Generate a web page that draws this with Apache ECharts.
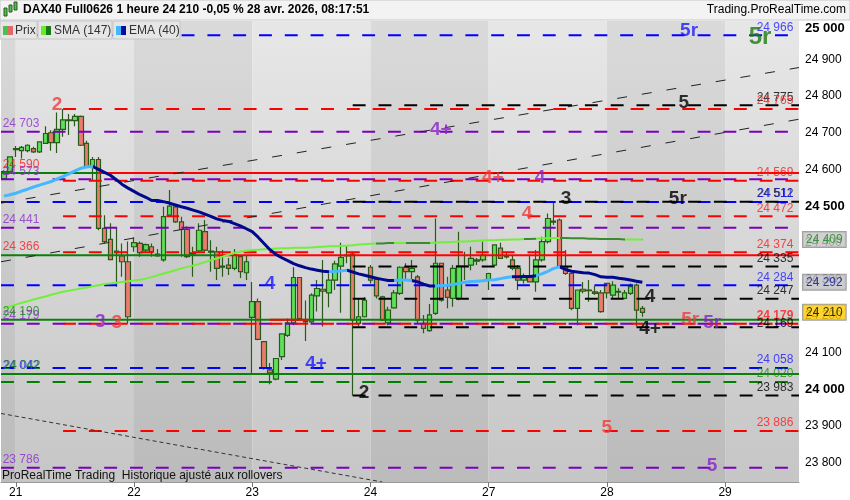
<!DOCTYPE html>
<html><head><meta charset="utf-8">
<script src="https://cdn.jsdelivr.net/npm/echarts@6/dist/echarts.min.js"></script>
<style>html,body{margin:0;padding:0;background:#fff}#c{width:850px;height:500px}</style>
</head><body><div id="c"></div><script>
// ---------- data ----------
const dayNames = ['20','21','22','23','24','27','28','29'];
const dayStarts = [2,22,42,62,82,102,122];          // first slot of each labelled day
const slotCount = 135;
const opens  = [24575,24594,24654,24651,24651,24657,24648,24671,24700,24673,24709,24735,24733,24745,24671,24607,24627,24439,24409,24377,24364,24348,24389,24398,24380,24389,24369,24353,24475,24498,24457,24436,24369,24378,24430,24377,24375,24336,24339,24330,24362,24318,24196,24239,24130,24053,24028,24089,24147,24181,24305,24186,24184,24255,24273,24263,24298,24336,24364,24369,24180,24198,24333,24300,24252,24181,24222,24262,24333,24321,24307,24180,24160,24207,24344,24271,24248,24248,24336,24339,24353,24353,24298,24339,24385,24363,24353,24330,24298,24307,24293,24353,24403,24459,24462,24334,24316,24221,24273,24271,24266,24263,24289,24257,24265,24248,24262,24284,24221];
const highs  = [24598,24636,24664,24664,24669,24662,24677,24718,24707,24755,24765,24751,24751,24747,24678,24634,24634,24475,24453,24443,24398,24403,24415,24403,24398,24398,24383,24498,24544,24503,24471,24445,24389,24453,24462,24407,24389,24380,24358,24383,24366,24366,24293,24248,24130,24072,24084,24151,24193,24333,24305,24242,24262,24298,24353,24316,24351,24400,24394,24375,24248,24252,24339,24307,24255,24225,24271,24336,24344,24353,24312,24203,24233,24466,24344,24307,24339,24430,24375,24389,24358,24403,24318,24394,24400,24375,24366,24339,24316,24366,24380,24416,24480,24512,24466,24380,24318,24271,24293,24298,24282,24271,24289,24295,24276,24271,24289,24289,24227];
const lows   = [24571,24590,24634,24630,24647,24645,24645,24670,24651,24645,24689,24694,24718,24664,24603,24571,24434,24398,24353,24280,24307,24179,24375,24362,24375,24362,24362,24348,24471,24454,24362,24358,24307,24371,24375,24321,24298,24307,24312,24325,24304,24298,24039,24134,24054,24014,24025,24080,24143,24175,24189,24132,24180,24212,24171,24224,24271,24209,24344,23983,24172,24196,24289,24248,24189,24175,24220,24257,24298,24300,24180,24153,24157,24203,24239,24221,24225,24243,24298,24325,24339,24348,24271,24336,24357,24357,24325,24271,24289,24293,24266,24348,24398,24448,24330,24312,24216,24175,24262,24239,24257,24209,24248,24248,24246,24246,24257,24172,24198];
const closes = [24594,24634,24657,24660,24666,24648,24675,24698,24673,24709,24735,24733,24745,24666,24607,24627,24439,24403,24354,24373,24348,24198,24400,24373,24395,24375,24364,24471,24500,24457,24436,24362,24372,24434,24380,24374,24330,24333,24330,24366,24321,24348,24239,24136,24057,24045,24084,24151,24181,24305,24193,24184,24257,24275,24268,24298,24342,24360,24366,24189,24198,24243,24298,24255,24189,24216,24263,24333,24321,24330,24189,24166,24203,24344,24243,24251,24330,24336,24335,24357,24350,24366,24316,24394,24357,24361,24330,24298,24307,24293,24353,24403,24466,24456,24334,24316,24221,24271,24268,24269,24262,24212,24263,24284,24267,24263,24280,24216,24210];
const sma147 = [24221,24226,24231,24236,24240,24245,24249,24253,24258,24262,24266,24269,24272,24275,24278,24281,24284,24287,24289,24291,24293,24295,24297,24299,24302,24306,24311,24316,24320,24325,24330,24334,24338,24342,24347,24352,24357,24362,24367,24372,24376,24378,24380,24381,24382,24383,24384,24385,24385,24386,24386,24386,24387,24388,24389,24390,24390,24391,24392,24393,24395,24396,24397,24398,24398,24399,24399,24399,24399,24399,24399,24399,24399,24400,24401,24401,24402,24403,24403,24404,24405,24406,24407,24407,24408,24408,24409,24409,24410,24410,24411,24412,24412,24413,24413,24413,24412,24412,24412,24411,24411,24410,24410,24410,24410,24409,24409,24409,24409];
const ema40 = [24527,24531,24535,24541,24546,24552,24557,24562,24567,24574,24581,24588,24596,24603,24607,24608,24600,24592,24584,24572,24559,24549,24540,24531,24524,24515,24515,24512,24508,24503,24498,24494,24489,24484,24478,24472,24465,24461,24458,24452,24446,24438,24430,24415,24398,24381,24368,24359,24351,24343,24337,24332,24328,24325,24322,24321,24322,24323,24325,24320,24315,24311,24307,24303,24300,24297,24297,24298,24298,24297,24293,24287,24282,24282,24283,24284,24286,24289,24292,24294,24295,24296,24298,24299,24302,24305,24307,24307,24308,24308,24310,24315,24322,24330,24334,24327,24322,24320,24318,24317,24313,24307,24306,24306,24303,24301,24298,24295,24292];
const yTicks = [23800,23900,24000,24100,24200,24300,24400,24500,24600,24700,24800,24900,25000];
const boldTicks = [24000,24500,25000];
// horizontal levels
const redLevels    = [24765,24569,24472,24374,24179,23886];   // dashed, from the "2" pivot
const purpleLevels = [24703,24573,24441,24179,23786];         // dashed, full width
const blueLevels   = [24966,24511,24284,24058];               // dashed, full width
const blackLevels  = [24775,24512,24335,24247,24169,23983];   // dashed, from the low pivot
const greenDashLevels = [24020];
const greenSolidLevels = [24190,24042];
const switchLevels = [24590,24366];                           // solid, green then red
const switchAt = [16,36];
const redPivotSlot = 10, blackPivotSlot = 59;
// trend lines [x0,p0,x1,p1]
const trendUpper = [-0.5,24508,134.5,24878];
const trendLower = [-0.5,24348,134.5,24737];
const trendDown  = [-0.5,23934,64,23747];
// value labels
const rightLabels = [[24966,'b'],[24775,'k'],[24765,'r'],[24569,'r'],[24512,'k'],[24511,'b'],[24472,'r'],[24374,'r'],[24335,'k'],[24284,'b'],[24247,'k'],[24179,'r'],[24169,'k'],[24058,'b'],[24020,'g'],[23983,'k'],[23886,'r']];
const leftLabels = [[24703,'p'],[24573,'p'],[24590,'r'],[24441,'p'],[24366,'r'],[24179,'p'],[24190,'g'],[24042,'b'],[24042,'g'],[23786,'p']];
// wave annotations [text, colour, slot, price]
const waveLabels = [['2','r',9.0,24776],['3','p',16.3,24183],['3','r',19.1,24181],['4','b',45.0,24287],['4+','b',52.8,24069],['2','k',60.9,23990],['4+','p',73.9,24707],['4+','r',82.7,24576],['4','p',90.7,24576],['4','r',88.5,24478],['3','k',95.1,24519],['5r','k',114.0,24519],['5','k',115.0,24781],['4','k',109.3,24252],['4+','k',109.3,24166],['5r','r',116.1,24189],['5r','p',119.8,24181],['5','r',102.0,23894],['5','p',119.8,23791],['5r','b',115.9,24977],['5r','g',127.9,24961]];
const lastPrice = 24210, lastSMA = 24409, lastEMA = 24292;

// ---------- build ----------
const LINE = {r:'#ff0000',p:'#7a00c0',b:'#0000ff',k:'#000000',g:'#008000'};
const TXT  = {r:'#ff1a1a',p:'#8a2ccc',b:'#1a1aff',k:'#000000',g:'#1a8a1a'};
const BIG  = {r:'#f03c3c',p:'#8a22c8',b:'#1a1aff',k:'#000000',g:'#1f7a10'};
const FONT = 'Arial, "Liberation Sans", sans-serif';
const DASH = [12.9,12.9];
const XMIN = -0.5, XMAX = slotCount - 0.5;

const categories = [];
for (let i = 0; i < slotCount; i++) {
  const d = i < 2 ? 0 : 1 + Math.floor((i - 2) / 20);
  const h = i < 2 ? 20 + i : 2 + ((i - 2) % 20);
  categories.push(dayNames[d] + ' ' + (h < 10 ? '0' : '') + h + ':00');
}
const isDayStart = i => dayStarts.indexOf(i) >= 0;
const candleData = closes.map((c, i) => [opens[i], c, lows[i], highs[i]]);
const fmt = v => String(v).replace(/\B(?=(\d{3})+(?!\d))/g, ' ');

const series = [];
// day bands
const bounds = [XMIN].concat(dayStarts, [XMAX]);
const bandData = [];
for (let k = 0; k < bounds.length - 1; k++) {
  const dark = k % 2 === 0;
  bandData.push([{xAxis: bounds[k], itemStyle: {color: {type:'linear',x:0,y:0,x2:0,y2:1,
      colorStops: dark ? [{offset:0,color:'#dadada'},{offset:1,color:'#bbbbbb'}]
                       : [{offset:0,color:'#e7e7e7'},{offset:1,color:'#c6c6c6'}]}}},
                 {xAxis: bounds[k+1]}]);
}
series.push({type:'line', xAxisIndex:1, data:[[0,24000]], symbol:'none', lineStyle:{opacity:0}, silent:true, z:0,
  markArea:{silent:true, data:bandData}});
// candles
series.push({type:'candlestick', xAxisIndex:0, data:candleData, barWidth:5, z:2,
  itemStyle:{color:'#5ee05a', color0:'#ec7a70', borderColor:'#2a5a1a', borderColor0:'#2a5a1a', borderWidth:1.2}});
function hline(p, from, to, color, dashed, w) {
  series.push({type:'line', xAxisIndex:1, data:[[from,p],[to,p]], symbol:'none', silent:true, z:3,
    lineStyle:{color:color, width:w || 2, type: dashed ? DASH : 'solid'}});
}
purpleLevels.forEach(p => hline(p, XMIN, XMAX, LINE.p, true));
blueLevels.forEach(p => hline(p, XMIN, XMAX, LINE.b, true));
greenDashLevels.forEach(p => hline(p, XMIN, XMAX, LINE.g, true));
redLevels.forEach(p => hline(p, redPivotSlot, XMAX, LINE.r, true));
blackLevels.forEach(p => hline(p, blackPivotSlot, XMAX, LINE.k, true));
greenSolidLevels.forEach(p => hline(p, XMIN, XMAX, '#0a800a', false));
switchLevels.forEach((p, k) => { hline(p, XMIN, switchAt[k], '#0a800a', false); hline(p, switchAt[k], XMAX, '#ff0000', false); });
hline(24190, 45, 51.5, '#ff0000', false);
// trend lines
[trendUpper, trendLower].forEach(t => series.push({type:'line', xAxisIndex:1, data:[[t[0],t[1]],[t[2],t[3]]], symbol:'none', silent:true, z:3,
  lineStyle:{color:'#222', width:1, type:[10,15]}}));
series.push({type:'line', xAxisIndex:1, data:[[trendDown[0],trendDown[1]],[trendDown[2],trendDown[3]]], symbol:'none', silent:true, z:3,
  lineStyle:{color:'#333', width:1, type:[4,3]}});
// moving averages
const smaIdx = series.length;
series.push({type:'line', xAxisIndex:0, data:sma147, symbol:'none', smooth:false, z:4, lineStyle:{width:2}});
const emaIdx = series.length;
series.push({type:'line', xAxisIndex:0, data:ema40, symbol:'none', smooth:false, z:4, lineStyle:{width:3}});
// text labels
function textSeries(items, z) {
  series.push({type:'scatter', xAxisIndex:1, symbolSize:0, silent:true, clip:false, z:z || 6, data:items});
}
textSeries(rightLabels.map(([p, c]) => ({value:[133.55, p], label:{show:true, position:'left', distance:0,
  offset:[0, p === 24169 ? -4 : -8], formatter: fmt(p), color:TXT[c], fontSize:12, fontFamily:FONT,
  fontWeight: p === 24179 ? 'bold' : 'normal'}})));
textSeries(leftLabels.map(([p, c], k) => ({value:[-0.22, p], label:{show:true, position:'right', distance:0,
  offset:[k === 8 ? 1 : 0, -8], formatter: fmt(p), color:TXT[c], fontSize:12, fontFamily:FONT}})));
textSeries(waveLabels.map(([t, c, x, p]) => ({value:[x, p], label:{show:true, position:'inside', formatter:t,
  color:BIG[c], fontSize: c === 'g' ? 24 : 19, fontWeight:'bold', fontFamily:FONT}})), 7);
// right-axis price boxes
const boxes = [[lastSMA,'#1a8a1a','#c4c4c4'],[lastEMA,'#10108a','#bfbfc8'],[lastPrice,'#000','#ffcc00']];
textSeries(boxes.map(([p, fc, bg]) => ({value:[XMAX, p], label:{show:true, position:'right', distance:4,
  formatter: fmt(p), color:fc, backgroundColor:bg, borderColor:'#8a8a8a', borderWidth:1, padding:[2,3,1,3],
  fontSize:12, fontFamily:FONT}})), 20);

const option = {
  animation:false,
  backgroundColor:'#ffffff',
  grid:{left:1, right:51, top:21, bottom:18, containLabel:false, outerBoundsMode:'none'},
  xAxis:[
    {type:'category', data:categories, boundaryGap:true, position:'bottom',
     axisLine:{show:true, lineStyle:{color:'#9a9a9a'}},
     axisTick:{show:true, alignWithLabel:true, interval:(i) => isDayStart(i), length:5, lineStyle:{color:'#777'}},
     axisLabel:{interval:(i) => isDayStart(i), formatter:(v) => v.split(' ')[0], color:'#000', fontSize:12, fontFamily:FONT, margin:5},
     splitLine:{show:false}},
    {type:'value', min:XMIN, max:XMAX, show:false, splitLine:{show:false}}
  ],
  yAxis:{type:'value', position:'right', min:23747, max:25005, scale:true,
    axisLine:{show:true, lineStyle:{color:'#9a9a9a'}},
    axisTick:{show:true, length:4, customValues:yTicks, lineStyle:{color:'#777'}},
    axisLabel:{customValues:yTicks, margin:6, color:'#000', fontSize:12, fontFamily:FONT,
      formatter:(v) => v === 25000 ? '{t|' + fmt(v) + '}' : (boldTicks.indexOf(v) >= 0 ? '{b|' + fmt(v) + '}' : fmt(v)),
      rich:{b:{fontWeight:'bold', fontSize:13, color:'#000', fontFamily:FONT},
            t:{fontWeight:'bold', fontSize:13, color:'#000', fontFamily:FONT, padding:[11,0,0,0]}}},
    splitLine:{show:false}},
  visualMap:[
    {type:'piecewise', show:false, seriesIndex:smaIdx, dimension:0,
     pieces:[{gte:-1,lt:63,color:'#72ef3a'},{gte:63,lt:66,color:'#3a8a30'},{gte:66,lt:68,color:'#72ef3a'},{gte:68,lt:72,color:'#3a8a30'},
             {gte:72,lt:88,color:'#72ef3a'},{gte:88,lt:90,color:'#3a8a30'},{gte:90,lt:94,color:'#72ef3a'},{gte:94,lt:105,color:'#3a8a30'},
             {gte:105,lt:107.5,color:'#72ef3a'},{gte:107.5,lt:200,color:'#3a8a30'}]},
    {type:'piecewise', show:false, seriesIndex:emaIdx, dimension:0,
     pieces:[{gte:-1,lt:15,color:'#44b8ff'},{gte:15,lt:55,color:'#00088c'},{gte:55,lt:58,color:'#44b8ff'},{gte:58,lt:66,color:'#00088c'},
             {gte:66,lt:69,color:'#44b8ff'},{gte:69,lt:73,color:'#00088c'},{gte:73,lt:86,color:'#44b8ff'},{gte:86,lt:89.5,color:'#00088c'},
             {gte:89.5,lt:94,color:'#44b8ff'},{gte:94,lt:200,color:'#00088c'}]}
  ],
  graphic:[
    {type:'rect', shape:{x:0,y:0,width:850,height:20}, style:{fill:'#f3f3f3', stroke:'#c8c8c8', lineWidth:1}, z:50},
    {type:'rect', shape:{x:4,y:8,width:3,height:8}, style:{fill:'#4cc04c', stroke:'#2a5a1a'}, z:51},
    {type:'rect', shape:{x:9,y:5,width:3,height:7}, style:{fill:'#4cc04c', stroke:'#2a5a1a'}, z:51},
    {type:'rect', shape:{x:14,y:2,width:3,height:8}, style:{fill:'#4cc04c', stroke:'#2a5a1a'}, z:51},
    {type:'text', x:23, y:4, style:{text:'DAX40 Full0626 1 heure 24 210 -0,05 % 28 avr. 2026, 08:17:51', font:'bold 12px ' + FONT, fill:'#000'}, z:51},
    {type:'text', x:846, y:4, style:{text:'Trading.ProRealTime.com', font:'12px ' + FONT, fill:'#000', align:'right'}, z:51},
    {type:'rect', shape:{x:0,y:21,width:37,height:18}, style:{fill:'#e6e6e6', stroke:'#c4c4c4'}, z:50},
    {type:'rect', shape:{x:38,y:21,width:74,height:18}, style:{fill:'#e6e6e6', stroke:'#c4c4c4'}, z:50},
    {type:'rect', shape:{x:113,y:21,width:67,height:18}, style:{fill:'#e6e6e6', stroke:'#c4c4c4'}, z:50},
    {type:'rect', shape:{x:3,y:26,width:5,height:9}, style:{fill:'#4cc04c'}, z:51},
    {type:'rect', shape:{x:8,y:26,width:5,height:9}, style:{fill:'#e06a6a'}, z:51},
    {type:'text', x:15, y:25, style:{text:'Prix', font:'12px ' + FONT, fill:'#333'}, z:51},
    {type:'rect', shape:{x:41,y:26,width:5,height:9}, style:{fill:'#66ee22'}, z:51},
    {type:'rect', shape:{x:46,y:26,width:5,height:9}, style:{fill:'#1a7a1a'}, z:51},
    {type:'text', x:54, y:25, style:{text:'SMA (147)', font:'12px ' + FONT, fill:'#333'}, z:51},
    {type:'rect', shape:{x:116,y:26,width:5,height:9}, style:{fill:'#44b8ff'}, z:51},
    {type:'rect', shape:{x:121,y:26,width:5,height:9}, style:{fill:'#00109a'}, z:51},
    {type:'text', x:129, y:25, style:{text:'EMA (40)', font:'12px ' + FONT, fill:'#333'}, z:51},
    {type:'text', x:2, y:470, style:{text:'ProRealTime Trading  Historique ajusté aux rollovers', font:'12px ' + FONT, fill:'#111'}, z:51}
  ],
  series:series
};
const chart = echarts.init(document.getElementById('c'), null, {renderer:'canvas'});
chart.setOption(option);
</script></body></html>
